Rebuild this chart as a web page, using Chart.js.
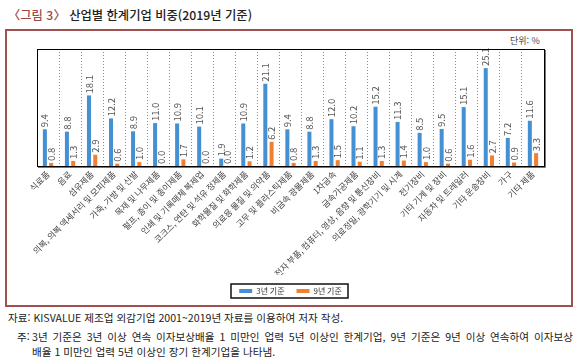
<!DOCTYPE html>
<html lang="ko">
<head>
<meta charset="utf-8">
<script src="https://cdn.jsdelivr.net/npm/chart.js@4.4.1/dist/chart.umd.min.js"></script>
<style>
  body { margin: 0; background: #fff; font-family: 'Noto Sans CJK KR', sans-serif; color: #222; }
  #page { position: relative; width: 582px; height: 358px; overflow: hidden; }
  #title { position: absolute; left: 8px; top: 6px; font-size: 12.3px; font-weight: 500; white-space: nowrap; }
  #title .fig { color: #a04848; }
  #frame { position: absolute; left: 5px; top: 29px; width: 564px; height: 274px; border: 2px solid #a0504f; }
  #unit { position: absolute; left: 510px; top: 34px; font-size: 9px; color: #444; }
  #wrap { position: absolute; left: 0; top: 0; width: 582px; height: 310px; }
  .note { position: absolute; font-size: 10.6px; line-height: 15px; white-space: nowrap; }
  #src { left: 8px; top: 310px; }
  #n1 { left: 17px; top: 329px; }
  #n2 { left: 32px; top: 329px; width: 541px; text-align: justify; text-align-last: justify; }
  #n3 { left: 32px; top: 344px; }
</style>
</head>
<body>
<div id="page">
  <div id="title"><span class="fig">〈그림 3〉</span> 산업별 한계기업 비중(2019년 기준)</div>
  <div id="frame"></div>
  <div id="unit">단위: %</div>
  <div id="wrap"><canvas id="chart" width="582" height="310"></canvas></div>
  <div class="note" id="src">자료: KISVALUE 제조업 외감기업 2001~2019년 자료를 이용하여 저자 작성.</div>
  <div class="note" id="n1">주:</div>
  <div class="note" id="n2">3년 기준은 3년 이상 연속 이자보상배율 1 미만인 업력 5년 이상인 한계기업, 9년 기준은 9년 이상 연속하여 이자보상</div>
  <div class="note" id="n3">배율 1 미만인 업력 5년 이상인 장기 한계기업을 나타냄.</div>
</div>
<script>
  // 산업 분류 (x축 라벨)
  const industries = [
    '식료품', '음료', '섬유제품', '의복, 의복 액세서리 및 모피제품', '가죽, 가방 및 신발',
    '목재 및 나무제품', '펄프, 종이 및 종이제품', '인쇄 및 기록매체 복제업', '코크스, 연탄 및 석유 정제품',
    '화학물질 및 화학제품', '의료용 물질 및 의약품', '고무 및 플라스틱제품', '비금속 광물제품',
    '1차금속', '금속가공제품', '전자 부품, 컴퓨터, 영상, 음향 및 통신장비', '의료정밀, 광학기기 및 시계',
    '전기장비', '기타 기계 및 장비', '자동차 및 트레일러', '기타 운송장비', '가구', '기타 제품'
  ];

  // 3년 기준 (%)
  const base3 = [9.4, 8.8, 18.1, 12.2, 8.9, 11.0, 10.9, 10.1, 1.9, 10.9, 21.1, 9.4,
                 8.8, 12.0, 10.2, 15.2, 11.3, 8.5, 9.5, 15.1, 25.1, 7.2, 11.6];

  // 9년 기준 (%)
  const base9 = [0.8, 1.3, 2.9, 0.6, 1.0, 0.0, 1.7, 0.0, 0.0, 1.2, 6.2, 0.8,
                 1.3, 1.5, 1.1, 1.3, 1.4, 1.0, 0.6, 1.6, 2.7, 0.9, 3.3];

  const seriesNames = ['3년 기준', '9년 기준'];

  const FONT = "'Noto Sans CJK KR', sans-serif";

  // value labels, rotated, above each bar
  const valueLabels = {
    id: 'valueLabels',
    afterDatasetsDraw(chart) {
      const ctx = chart.ctx;
      ctx.save();
      ctx.font = '9.5px ' + FONT;
      ctx.fillStyle = '#555';
      ctx.textAlign = 'left';
      ctx.textBaseline = 'middle';
      chart.data.datasets.forEach((ds, di) => {
        chart.getDatasetMeta(di).data.forEach((bar, i) => {
          ctx.save();
          ctx.translate(bar.x, bar.y - 2);
          ctx.rotate(-Math.PI / 2);
          ctx.fillText(ds.data[i].toFixed(1), 0, 0);
          ctx.restore();
        });
      });
      ctx.restore();
    }
  };

  // plot frame + legend box
  const frames = {
    id: 'frames',
    afterDraw(chart) {
      const ctx = chart.ctx;
      const a = chart.chartArea;
      ctx.save();
      ctx.strokeStyle = '#000';
      ctx.lineWidth = 1;
      ctx.strokeRect(a.left + 0.5, a.top + 0.5, a.right - a.left, a.bottom - a.top);
      ctx.strokeStyle = '#777';
      ctx.beginPath();
      ctx.moveTo(a.left + 1, a.bottom + 1.5);
      ctx.lineTo(a.right + 1.5, a.bottom + 1.5);
      ctx.lineTo(a.right + 1.5, a.top + 1);
      ctx.stroke();

      const hb = chart.legend.legendHitBoxes;
      if (hb && hb.length) {
        const l = Math.min(...hb.map(h => h.left)) - 8;
        const r = Math.max(...hb.map(h => h.left + h.width)) + 6;
        const t = Math.min(...hb.map(h => h.top)) - 3;
        const b = Math.max(...hb.map(h => h.top + h.height)) + 3;
        ctx.strokeStyle = '#111';
        ctx.lineWidth = 1.5;
        ctx.strokeRect(Math.round(l), Math.round(t), Math.round(r - l), Math.round(b - t));
      }
      ctx.restore();
    }
  };

  new Chart(document.getElementById('chart'), {
    type: 'bar',
    data: {
      labels: industries,
      datasets: [
        { label: seriesNames[0], data: base3, backgroundColor: '#4590d4', categoryPercentage: 0.57, barPercentage: 0.64 },
        { label: seriesNames[1], data: base9, backgroundColor: '#f08030', categoryPercentage: 0.57, barPercentage: 0.64 }
      ]
    },
    options: {
      responsive: false,
      animation: false,
      layout: { padding: { top: 49, left: 37, right: 38, bottom: 5 } },
      plugins: {
        tooltip: { enabled: false },
        legend: {
          position: 'bottom',
          labels: {
            boxWidth: 13,
            boxHeight: 4,
            padding: 12,
            color: '#333',
            font: { size: 8, family: FONT }
          }
        }
      },
      scales: {
        x: {
          grid: { display: true, drawTicks: false, color: '#8a8a8a', lineWidth: 1 },
          border: { display: false, dash: [1, 2] },
          ticks: {
            autoSkip: false,
            minRotation: 45,
            maxRotation: 45,
            padding: 3,
            color: '#444',
            font: { size: 8.6, family: FONT }
          },
          afterFit(scale) { scale.height = 109; }
        },
        y: {
          display: false,
          min: 0,
          max: 30
        }
      }
    },
    plugins: [valueLabels, frames]
  });
</script>
</body>
</html>
